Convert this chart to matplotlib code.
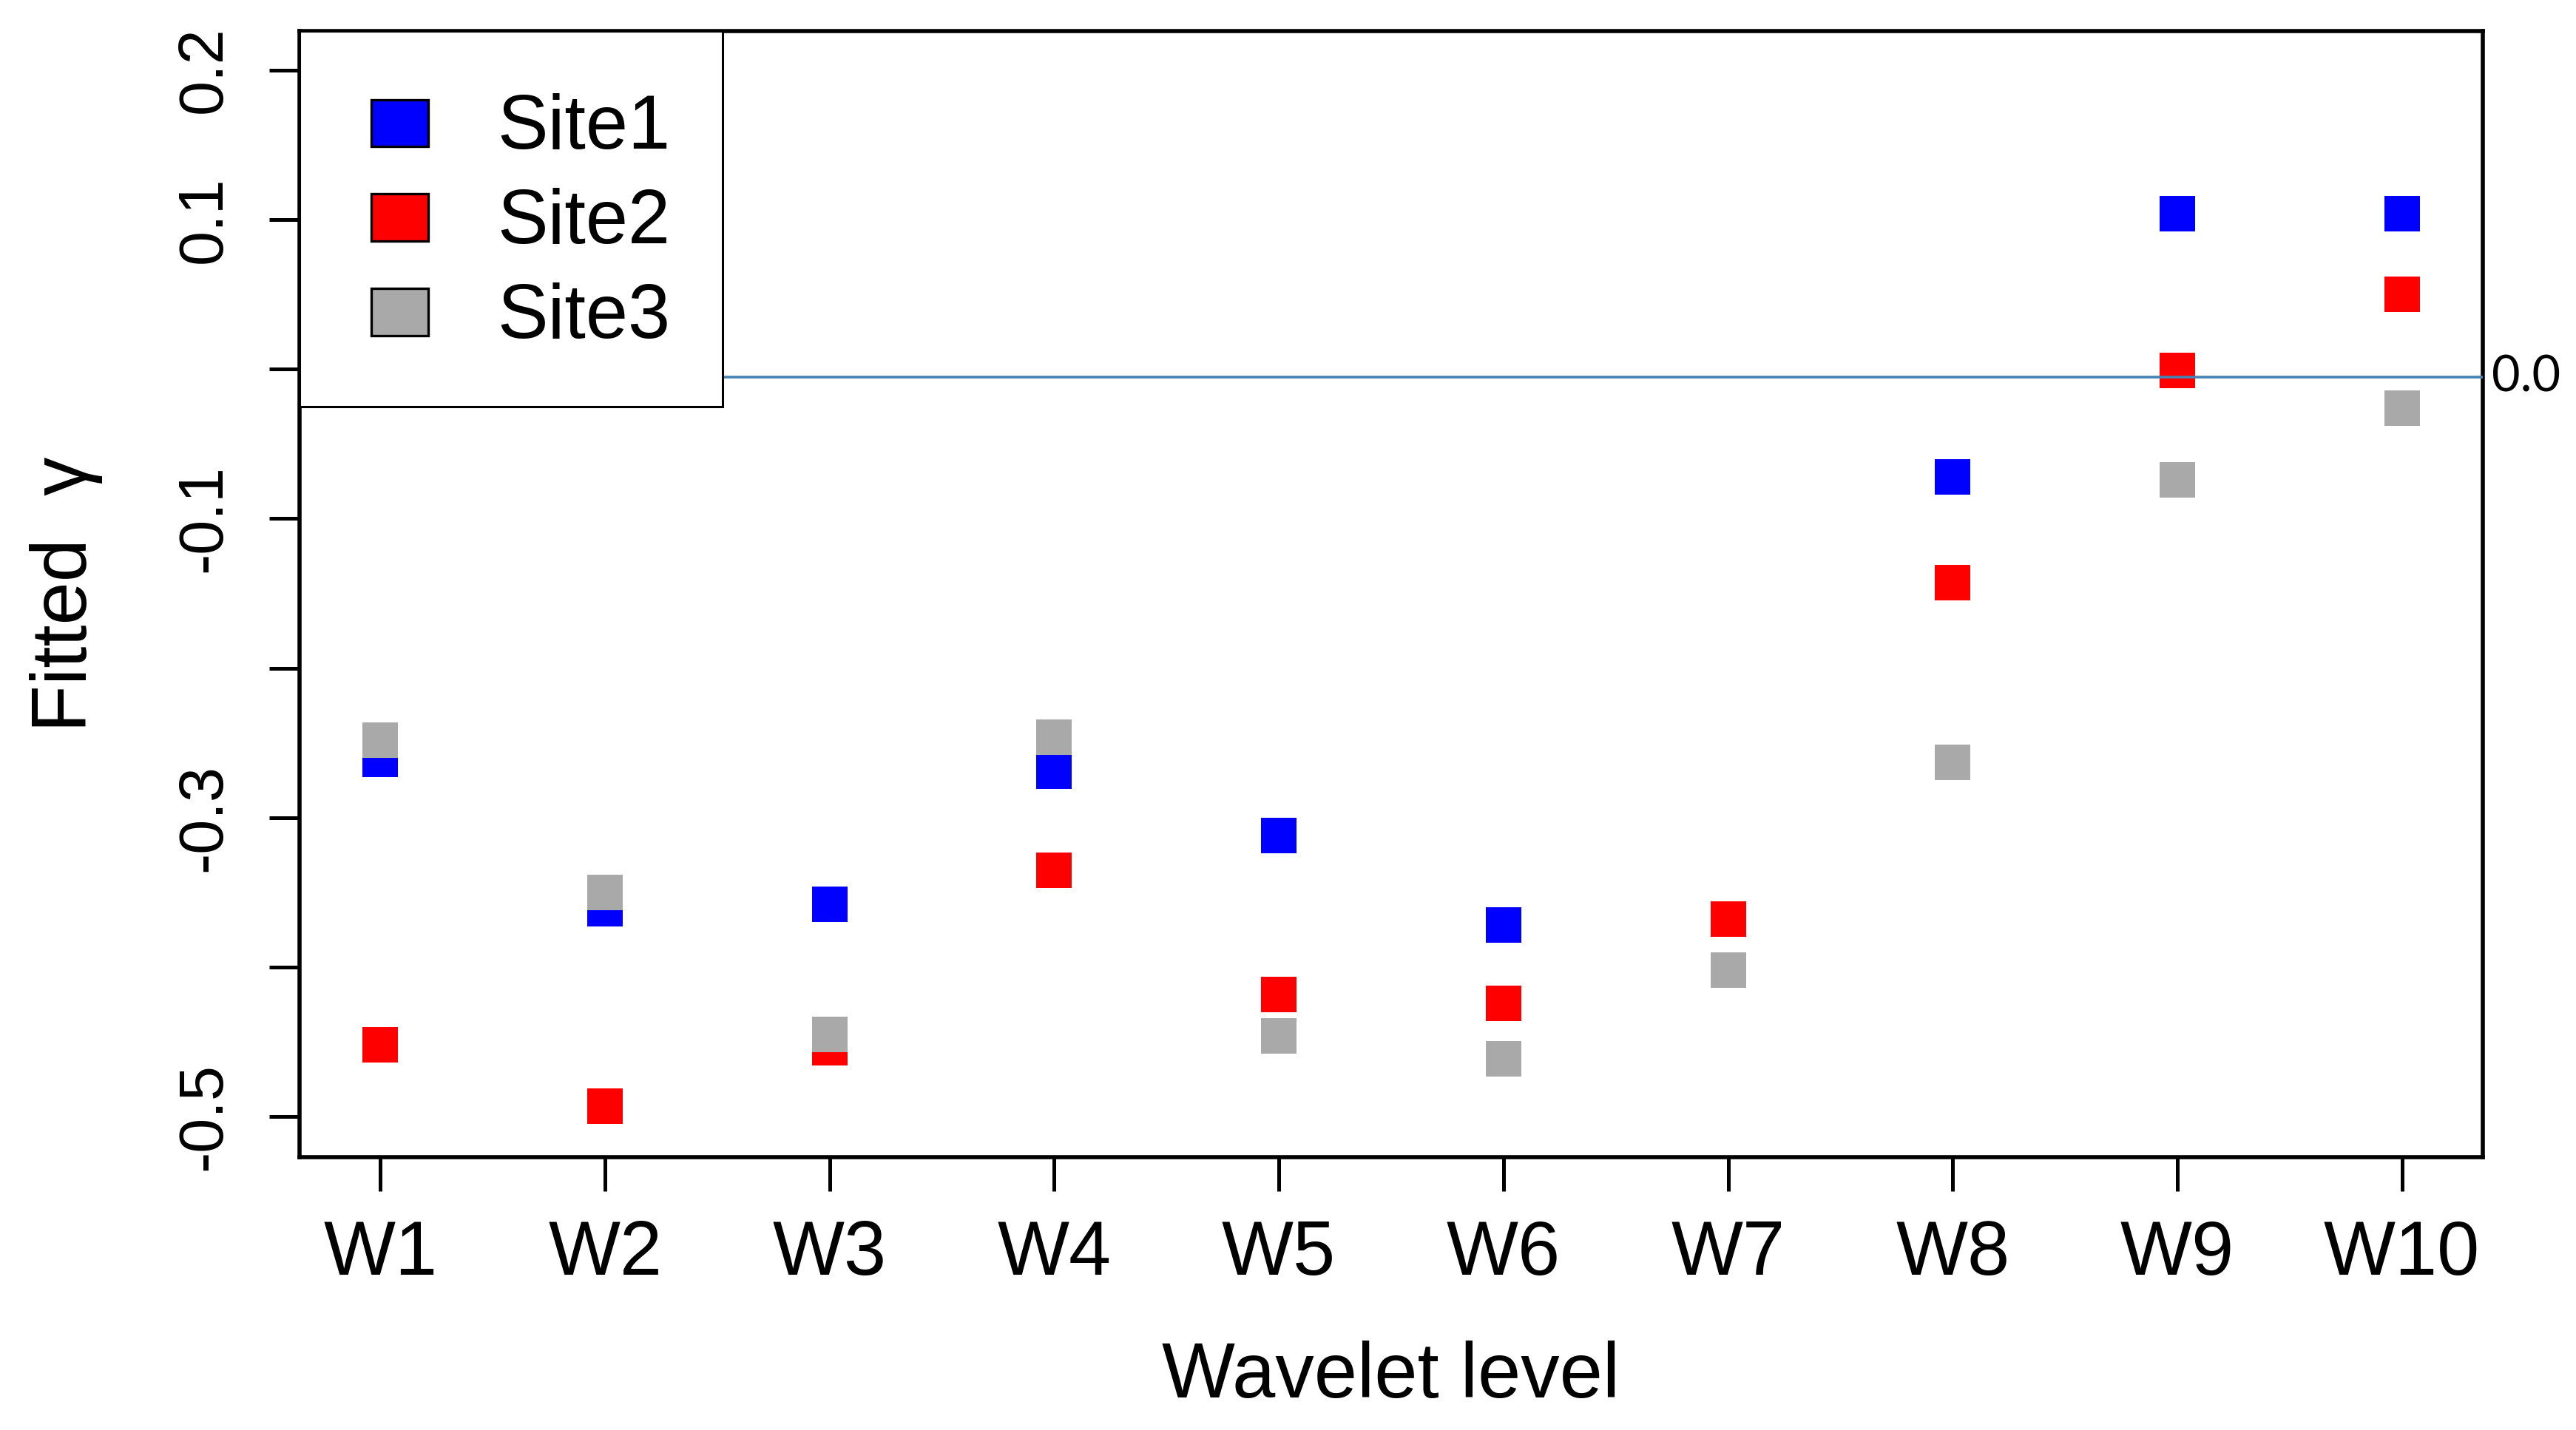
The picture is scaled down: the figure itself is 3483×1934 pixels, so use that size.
import numpy as np
import matplotlib
matplotlib.use('Agg')
import matplotlib.pyplot as plt
import matplotlib.patches as mpatches
from matplotlib.legend_handler import HandlerPatch

plt.rcParams['font.family'] = ['Liberation Sans', 'DejaVu Sans']

# data
levels = ['W1', 'W2', 'W3', 'W4', 'W5', 'W6', 'W7', 'W8', 'W9', 'W10']
site1 = [-0.261, -0.361, -0.358, -0.269, -0.312, -0.372, np.nan, -0.072, 0.104, 0.104]
site2 = [-0.452, -0.493, -0.454, -0.335, -0.418, -0.424, -0.368, -0.143, -0.001, 0.050]
site3 = [-0.248, -0.350, -0.445, -0.246, -0.446, -0.461, -0.402, -0.263, -0.074, -0.026]
site_names = ['Site1', 'Site2', 'Site3']
site_colors = ['#0000FF', '#FF0000', '#A9A9A9']
ref_level = -0.0055   # the blue reference line, labelled "0.0"
yticks = [-0.5, -0.4, -0.3, -0.2, -0.1, 0.0, 0.1, 0.2]
ytick_labels = ['-0.5', '', '-0.3', '', '-0.1', '', '0.1', '0.2']

fig = plt.figure(figsize=(17.415, 9.67), dpi=200)
ax = fig.add_axes([0.1163, 0.1908, 0.8475, 0.7875])

x = np.arange(1, len(levels) + 1)
for vals, col in zip([site1, site2, site3], site_colors):
    ax.plot(x, vals, linestyle='none', marker='s', markersize=17.3,
            markerfacecolor=col, markeredgewidth=0, zorder=3)

# reference line
ax.axhline(ref_level, color='#4682B4', linewidth=1.3, zorder=4)
ax.text(1.004, ref_level, '0.0', transform=ax.get_yaxis_transform(),
        ha='left', va='center', fontsize=24, family=['Lato', 'DejaVu Sans'])

ax.set_xlim(0.64, 10.36)
ax.set_ylim(-0.527, 0.226)
ax.set_xticks(x)
ax.set_xticklabels(levels)
ax.set_yticks(yticks)
ax.set_yticklabels(ytick_labels, rotation=90, va='center')

ax.tick_params(axis='x', length=16.6, width=1.8, pad=13.5, labelsize=37)
ax.tick_params(axis='y', length=14.8, width=1.8, pad=17, labelsize=30.5)
for sp in ax.spines.values():
    sp.set_linewidth(2.0)

ax.set_xlabel('Wavelet level', fontsize=37.7)
ax.xaxis.set_label_coords(0.5, -0.163)
ax.set_ylabel('Fitted  γ', fontsize=37.7)
ax.yaxis.set_label_coords(-0.090, 0.5)


def box_patch(legend, orig_handle, xdescent, ydescent, width, height, fontsize):
    w = 0.75 * fontsize
    h = 0.62 * fontsize
    return mpatches.Rectangle((-xdescent + 0.25 * fontsize, -ydescent + (height - h) / 2), w, h)


handles = [mpatches.Patch(facecolor=c, edgecolor='black', linewidth=1.2) for c in site_colors]
leg = ax.legend(handles, site_names, loc='upper left', borderaxespad=0, fontsize=37,
                handlelength=1.44, handleheight=1.23, handletextpad=0.47,
                borderpad=0.69, labelspacing=0.17, fancybox=False, framealpha=1,
                edgecolor='black', handler_map={mpatches.Patch: HandlerPatch(patch_func=box_patch)})
leg.get_frame().set_linewidth(1.1)
leg.set_zorder(5)

plt.savefig('out.png', dpi=200, facecolor='white')
plt.close()
